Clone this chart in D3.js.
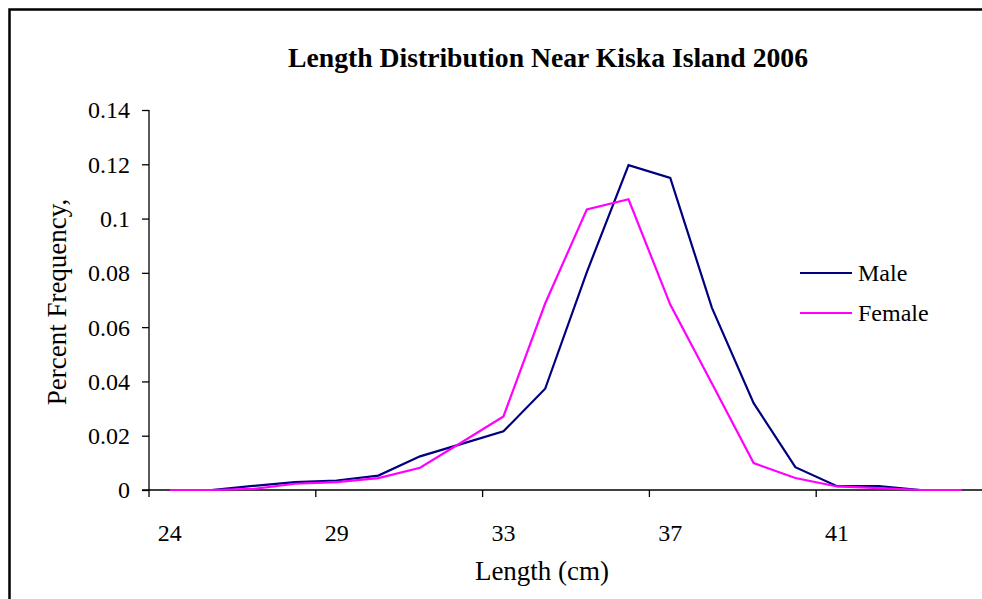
<!DOCTYPE html>
<html><head><meta charset="utf-8">
<script src="https://cdn.jsdelivr.net/npm/d3@7"></script>
<style>body{margin:0;background:#fff}svg{display:block}text{font-family:"Liberation Serif","Times New Roman",serif;fill:#000}</style>
</head><body>
<script>
const categories = ["24","26","27","28","29","30","31","32","33","34","35","36","37","38","39","40","41","42","43","44"];
const tickLabels = ["24","29","33","37","41"];
const male   = [0,0,0.0015,0.0029,0.0035,0.0053,0.0124,0.017,0.0216,0.0373,0.0803,0.1197,0.115,0.0671,0.032,0.0084,0.0014,0.0014,0,0];
const female = [0,0,0.0004,0.0023,0.0029,0.0044,0.0082,0.0176,0.0271,0.0687,0.1034,0.1071,0.0683,0.0392,0.0099,0.0044,0.0013,0.0007,0,0];
const yTicks = [0,0.02,0.04,0.06,0.08,0.1,0.12,0.14];
const series = [{name:"Male",values:male,color:"#000080"},{name:"Female",values:female,color:"#FF00FF"}];

const W=982,H=599;
const svg=d3.select("body").append("svg").attr("width",W).attr("height",H);
svg.append("rect").attr("x",9.5).attr("y",9.5).attr("width",1000).attr("height",700)
  .attr("fill","none").attr("stroke","#000").attr("stroke-width",2.5);

const L=149,R=983,T=110,B=490;
const x=d3.scaleBand().domain(categories).range([L,R]);
const y=d3.scaleLinear().domain([0,0.14]).range([B,T]);

const yAxis=d3.axisLeft(y).tickValues(yTicks).tickSize(7).tickPadding(12)
  .tickFormat(d=>d===0?"0":String(+d.toFixed(2)));
const gy=svg.append("g").attr("transform",`translate(${L},0)`).call(yAxis);
gy.attr("font-family",null).attr("font-size",null);
gy.select(".domain").attr("d",`M0,${T}V${B}`).attr("stroke","#000").attr("stroke-width",1.3);
gy.selectAll(".tick line").attr("stroke","#000").attr("stroke-width",1.3);
gy.selectAll("text").attr("font-size",24).attr("dy","0.33em");

svg.append("line").attr("x1",L-7).attr("x2",R).attr("y1",B).attr("y2",B).attr("stroke","#000").attr("stroke-width",1.3);
const bnd=categories.filter((c,i)=>i%4===0);
svg.selectAll(".xt").data(bnd).join("line").attr("class","xt")
  .attr("x1",d=>x(d)).attr("x2",d=>x(d)).attr("y1",B).attr("y2",B+7).attr("stroke","#000").attr("stroke-width",1.3);
svg.selectAll(".xl").data(bnd).join("text").attr("class","xl")
  .attr("x",(d)=>x(d)+x.bandwidth()/2).attr("y",541).attr("text-anchor","middle").attr("font-size",24)
  .text((d,i)=>tickLabels[i]);

const line=d3.line().x((d,i)=>x(categories[i])+x.bandwidth()/2).y(d=>y(d));
series.forEach(s=>{
  svg.append("path").datum(s.values).attr("d",line).attr("fill","none").attr("stroke",s.color).attr("stroke-width",2.2);
});

series.forEach((s,i)=>{
  const ly=273+i*40;
  svg.append("line").attr("x1",800).attr("x2",852).attr("y1",ly).attr("y2",ly).attr("stroke",s.color).attr("stroke-width",2.2);
  svg.append("text").attr("x",858).attr("y",ly+8).attr("font-size",24).text(s.name);
});

svg.append("text").attr("x",548).attr("y",67).attr("text-anchor","middle").attr("font-size",28)
  .attr("font-weight","bold").attr("textLength",520).attr("lengthAdjust","spacingAndGlyphs")
  .text("Length Distribution Near Kiska Island 2006");
svg.append("text").attr("x",542).attr("y",580).attr("text-anchor","middle").attr("font-size",27).text("Length (cm)");
svg.append("text").attr("transform","translate(66,302) rotate(-90)").attr("text-anchor","middle").attr("font-size",27).text("Percent Frequency,");
</script>
</body></html>
